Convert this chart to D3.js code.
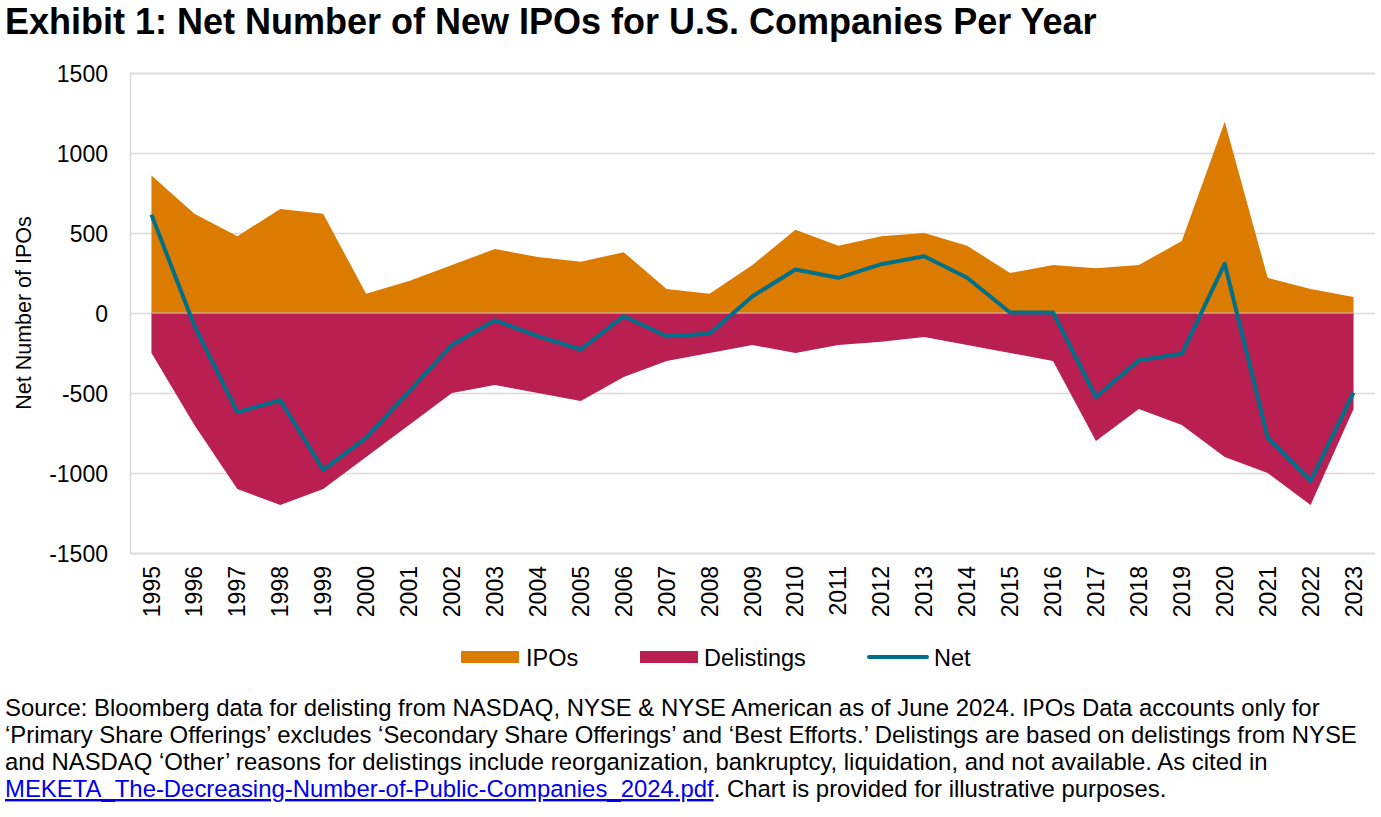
<!DOCTYPE html>
<html><head><meta charset="utf-8">
<script src="https://cdn.jsdelivr.net/npm/d3@7"></script>
<style>
html,body{margin:0;padding:0;background:#fff;}
svg{display:block;font-family:"Liberation Sans",Arial,sans-serif;}
</style></head>
<body><svg id="c" width="1381" height="817"></svg>
<script>
const years = [1995,1996,1997,1998,1999,2000,2001,2002,2003,2004,2005,2006,2007,2008,2009,2010,2011,2012,2013,2014,2015,2016,2017,2018,2019,2020,2021,2022,2023];
const ipos = [860,620,480,650,620,120,200,300,400,350,320,380,150,120,300,520,420,480,500,420,250,300,280,300,450,1195,220,150,100];
const delistings = [-250,-700,-1100,-1200,-1100,-900,-700,-500,-450,-500,-550,-400,-300,-250,-200,-250,-200,-180,-150,-200,-250,-300,-800,-600,-700,-900,-1000,-1200,-600];
const net = [615,-80,-620,-545,-980,-780,-490,-200,-45,-145,-228,-20,-145,-130,105,272,220,305,355,220,3,3,-525,-295,-255,308,-780,-1050,-498];
const yTicks = [-1500,-1000,-500,0,500,1000,1500];

const svg = d3.select("#c");
const L=130, R=1375, T=73, B=553;
const x = d3.scaleBand().domain(years).range([L,R]).padding(0);
const cx = d => x(d) + x.bandwidth()/2;
const y = d3.scaleLinear().domain([-1500,1500]).range([B,T]);
const FONT = "Liberation Sans, Arial, sans-serif";

// gridlines
const gy = d3.axisLeft(y).tickValues(yTicks).tickSize(-(R-L)).tickFormat(d=>d);
const ga = svg.append("g").attr("transform",`translate(${L},0)`).call(gy);
ga.select(".domain").attr("stroke","#d9d9d9").attr("stroke-width",1.5);
ga.selectAll(".tick line").attr("stroke","#d9d9d9").attr("stroke-width",1.5);
ga.selectAll(".tick text").attr("x",-22).attr("font-size","23px").attr("fill","#000").attr("font-family",FONT).attr("dy","0.35em");

const area = d3.area().x((d,i)=>cx(years[i])).y0(y(0)).y1(d=>y(d));
svg.append("path").datum(ipos).attr("d",area).attr("fill","#DB7B00");
svg.append("path").datum(delistings).attr("d",area).attr("fill","#BA1F52");
svg.append("line").attr("x1",cx(years[0])).attr("x2",cx(years[years.length-1])).attr("y1",y(0)).attr("y2",y(0)).attr("stroke","#d6a57a").attr("stroke-width",1.5);

const line = d3.line().x((d,i)=>cx(years[i])).y(d=>y(d));
svg.append("path").datum(net).attr("d",line).attr("fill","none").attr("stroke","#00708A").attr("stroke-width",4).attr("stroke-linejoin","round");

// x axis labels
const xa = d3.axisBottom(x).tickSize(0).tickFormat(d=>d);
const xg = svg.append("g").attr("transform",`translate(0,${B})`).call(xa);
xg.select(".domain").remove();
xg.selectAll(".tick text").attr("font-size","23px").attr("fill","#000").attr("font-family",FONT)
  .attr("transform","rotate(-90)").attr("text-anchor","end").attr("x",-13).attr("y",0).attr("dy","0.35em");

// y label
svg.append("text").attr("transform",`translate(31,${y(0)}) rotate(-90)`).attr("text-anchor","middle").attr("font-size","21.5px").text("Net Number of IPOs");

// title
svg.append("text").attr("x",5).attr("y",34).attr("font-size","36px").attr("font-weight","bold").text("Exhibit 1: Net Number of New IPOs for U.S. Companies Per Year");

// legend
const lg = svg.append("g").attr("font-size","23.5px");
lg.append("rect").attr("x",461).attr("y",651).attr("width",58).attr("height",12).attr("fill","#DB7B00");
lg.append("text").attr("x",526).attr("y",665.5).text("IPOs");
lg.append("rect").attr("x",640).attr("y",651).attr("width",58).attr("height",12).attr("fill","#BA1F52");
lg.append("text").attr("x",704).attr("y",665.5).text("Delistings");
lg.append("line").attr("x1",869).attr("x2",927).attr("y1",657).attr("y2",657).attr("stroke","#00708A").attr("stroke-width",4).attr("stroke-linecap","round");
lg.append("text").attr("x",934).attr("y",665.5).text("Net");

// source
const src = [
 "Source: Bloomberg data for delisting from NASDAQ, NYSE & NYSE American as of June 2024. IPOs Data accounts only for",
 "\u2018Primary Share Offerings\u2019 excludes \u2018Secondary Share Offerings\u2019 and \u2018Best Efforts.\u2019 Delistings are based on delistings from NYSE",
 "and NASDAQ \u2018Other\u2019 reasons for delistings include reorganization, bankruptcy, liquidation, and not available. As cited in"
];
src.forEach((s,i)=>svg.append("text").attr("x",5).attr("y",716+i*27).attr("font-size","23.9px").text(s));
const last = svg.append("text").attr("x",5).attr("y",716+3*27).attr("font-size","23.9px");
last.append("tspan").attr("fill","#0000EE").attr("text-decoration","underline").text("MEKETA_The-Decreasing-Number-of-Public-Companies_2024.pdf");
last.append("tspan").attr("fill","#000").text(". Chart is provided for illustrative purposes.");
</script></body></html>
